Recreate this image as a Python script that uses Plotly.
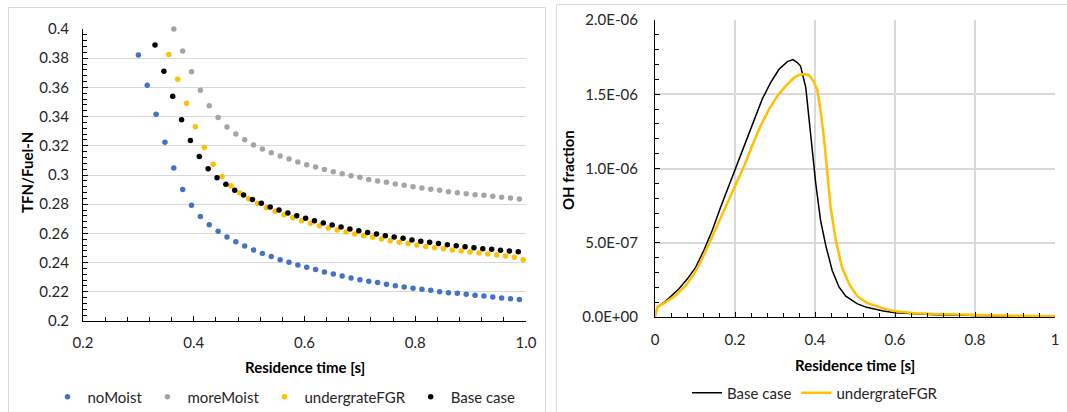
import plotly.graph_objects as go

W, H = 1067, 412

# ---------------- Left chart data: TFN/Fuel-N vs residence time ----------------
no_moist_x = [0.300, 0.316, 0.332, 0.348, 0.364, 0.380, 0.396, 0.412, 0.428, 0.444,
              0.460, 0.476, 0.492, 0.508, 0.524, 0.540, 0.556, 0.572, 0.588, 0.604,
              0.620, 0.636, 0.652, 0.668, 0.684, 0.700, 0.716, 0.732, 0.748, 0.764,
              0.780, 0.796, 0.812, 0.828, 0.844, 0.860, 0.876, 0.892, 0.908, 0.924,
              0.940, 0.956, 0.972, 0.988]
no_moist_y = [0.3822, 0.3614, 0.3416, 0.3224, 0.3048, 0.2900, 0.2792, 0.2715, 0.2660, 0.2614,
              0.2575, 0.2543, 0.2514, 0.2486, 0.2463, 0.2441, 0.2420, 0.2402, 0.2384, 0.2368,
              0.2352, 0.2336, 0.2322, 0.2308, 0.2295, 0.2283, 0.2272, 0.2263, 0.2251, 0.2242,
              0.2233, 0.2224, 0.2217, 0.2210, 0.2201, 0.2194, 0.2190, 0.2183, 0.2176, 0.2171,
              0.2164, 0.2158, 0.2153, 0.2148]

more_moist_x = [0.364, 0.380, 0.396, 0.412, 0.428, 0.444, 0.460, 0.476, 0.492, 0.508,
                0.524, 0.540, 0.556, 0.572, 0.588, 0.604, 0.620, 0.636, 0.652, 0.668,
                0.684, 0.700, 0.716, 0.732, 0.748, 0.764, 0.780, 0.796, 0.812, 0.828,
                0.844, 0.860, 0.876, 0.892, 0.908, 0.924, 0.940, 0.956, 0.972, 0.988]
more_moist_y = [0.4000, 0.3849, 0.3708, 0.3580, 0.3475, 0.3393, 0.3329, 0.3281, 0.3242, 0.3205,
                0.3178, 0.3153, 0.3130, 0.3110, 0.3089, 0.3071, 0.3055, 0.3037, 0.3023, 0.3009,
                0.2995, 0.2984, 0.2970, 0.2959, 0.2950, 0.2938, 0.2929, 0.2920, 0.2911, 0.2902,
                0.2895, 0.2886, 0.2879, 0.2872, 0.2865, 0.2861, 0.2854, 0.2847, 0.2842, 0.2836]

fgr_x = [0.355, 0.371, 0.387, 0.403, 0.419, 0.435, 0.451, 0.467, 0.483, 0.499,
         0.515, 0.531, 0.547, 0.563, 0.579, 0.595, 0.611, 0.627, 0.643, 0.659,
         0.675, 0.691, 0.707, 0.723, 0.739, 0.755, 0.771, 0.787, 0.803, 0.819,
         0.835, 0.851, 0.867, 0.883, 0.899, 0.915, 0.931, 0.947, 0.963, 0.979,
         0.995]
fgr_y = [0.3826, 0.3655, 0.3491, 0.3331, 0.3189, 0.3073, 0.2989, 0.2927, 0.2877, 0.2838,
         0.2804, 0.2776, 0.2751, 0.2728, 0.2708, 0.2687, 0.2669, 0.2653, 0.2637, 0.2623,
         0.2610, 0.2596, 0.2584, 0.2573, 0.2562, 0.2550, 0.2539, 0.2530, 0.2521, 0.2511,
         0.2502, 0.2495, 0.2486, 0.2479, 0.2473, 0.2466, 0.2459, 0.2452, 0.2445, 0.2436,
         0.2420]

base_x = [0.330, 0.346, 0.362, 0.378, 0.394, 0.410, 0.426, 0.442, 0.458, 0.474,
          0.490, 0.506, 0.522, 0.538, 0.554, 0.570, 0.586, 0.602, 0.618, 0.634,
          0.650, 0.666, 0.682, 0.698, 0.714, 0.730, 0.746, 0.762, 0.778, 0.794,
          0.810, 0.826, 0.842, 0.858, 0.874, 0.890, 0.906, 0.922, 0.938, 0.954,
          0.970, 0.986]
base_y = [0.3890, 0.3710, 0.3539, 0.3379, 0.3237, 0.3126, 0.3043, 0.2982, 0.2936, 0.2895,
          0.2863, 0.2833, 0.2806, 0.2781, 0.2760, 0.2740, 0.2721, 0.2703, 0.2687, 0.2671,
          0.2658, 0.2644, 0.2630, 0.2619, 0.2607, 0.2596, 0.2584, 0.2575, 0.2566, 0.2555,
          0.2546, 0.2539, 0.2530, 0.2523, 0.2516, 0.2509, 0.2502, 0.2495, 0.2491, 0.2484,
          0.2479, 0.2475]

left_xticks = [0.2, 0.4, 0.6, 0.8, 1.0]
left_xticktext = ["0.2", "0.4", "0.6", "0.8", "1.0"]
left_yticks = [0.2, 0.22, 0.24, 0.26, 0.28, 0.3, 0.32, 0.34, 0.36, 0.38, 0.4]
left_yticktext = ["0.2", "0.22", "0.24", "0.26", "0.28", "0.3", "0.32", "0.34", "0.36", "0.38", "0.4"]

# ---------------- Right chart data: OH fraction vs residence time ----------------
oh_base_t = [0.0, 0.006, 0.027, 0.043, 0.060, 0.081, 0.102, 0.122, 0.143, 0.164,
             0.185, 0.206, 0.227, 0.248, 0.268, 0.289, 0.310, 0.331, 0.345, 0.355,
             0.364, 0.377, 0.385, 0.393, 0.402, 0.414, 0.427, 0.443, 0.460, 0.477,
             0.490, 0.505, 0.529, 0.571, 0.600, 0.650, 0.700, 0.800, 0.900, 1.000]
oh_base = [0.0, 0.67e-7, 1.07e-7, 1.46e-7, 1.90e-7, 2.57e-7, 3.36e-7, 4.48e-7, 5.82e-7, 7.39e-7,
           8.84e-7, 10.41e-7, 11.87e-7, 13.32e-7, 14.67e-7, 15.78e-7, 16.68e-7, 17.20e-7, 17.33e-7, 17.15e-7,
           16.90e-7, 15.45e-7, 13.43e-7, 11.20e-7, 8.96e-7, 6.49e-7, 4.81e-7, 3.13e-7, 2.02e-7, 1.40e-7,
           1.15e-7, 0.90e-7, 0.65e-7, 0.40e-7, 0.29e-7, 0.20e-7, 0.15e-7, 0.10e-7, 0.07e-7, 0.05e-7]

oh_fgr_t = [0.0, 0.006, 0.027, 0.052, 0.077, 0.098, 0.118, 0.139, 0.160, 0.181,
            0.202, 0.223, 0.243, 0.264, 0.285, 0.306, 0.327, 0.348, 0.360, 0.372,
            0.385, 0.396, 0.406, 0.414, 0.423, 0.431, 0.439, 0.452, 0.468, 0.487,
            0.506, 0.530, 0.571, 0.600, 0.650, 0.700, 0.800, 0.900, 1.000]
oh_fgr = [0.0, 0.67e-7, 1.00e-7, 1.46e-7, 2.13e-7, 2.91e-7, 3.92e-7, 5.15e-7, 6.49e-7, 7.72e-7,
          8.84e-7, 10.19e-7, 11.53e-7, 12.87e-7, 13.99e-7, 14.89e-7, 15.56e-7, 16.12e-7, 16.30e-7, 16.36e-7,
          16.28e-7, 15.90e-7, 15.27e-7, 13.88e-7, 11.87e-7, 9.63e-7, 7.39e-7, 5.15e-7, 3.30e-7, 2.14e-7,
          1.40e-7, 0.95e-7, 0.58e-7, 0.38e-7, 0.26e-7, 0.20e-7, 0.13e-7, 0.09e-7, 0.05e-7]

right_xticks = [0, 0.2, 0.4, 0.6, 0.8, 1.0]
right_xticktext = ["0", "0.2", "0.4", "0.6", "0.8", "1"]
right_yticks = [0, 5e-7, 1e-6, 1.5e-6, 2e-6]
right_yticktext = ["0.0E+00", "5.0E-07", "1.0E-06", "1.5E-06", "2.0E-06"]

# ---------------- Styling ----------------
FONT = "Lato"
TXT = "#262626"
GRID = "#D9D9D9"
BLUE, GREY, GOLD, BLACK = "#4472C4", "#A5A5A5", "#FFC000", "#000000"


def px_x(p):
    return p / W


def px_y(p):
    return 1 - p / H


fig = go.Figure()

for name, xs, ys, col in [("noMoist", no_moist_x, no_moist_y, BLUE),
                          ("moreMoist", more_moist_x, more_moist_y, GREY),
                          ("undergrateFGR", fgr_x, fgr_y, GOLD),
                          ("Base case", base_x, base_y, BLACK)]:
    fig.add_trace(go.Scatter(x=xs, y=ys, mode="markers", name=name,
                             marker=dict(color=col, size=5.5),
                             cliponaxis=False, xaxis="x", yaxis="y", legend="legend"))

fig.add_trace(go.Scatter(x=oh_base_t, y=oh_base, mode="lines", name="Base case",
                         line=dict(color=BLACK, width=1.5), xaxis="x2", yaxis="y2",
                         legend="legend2"))
fig.add_trace(go.Scatter(x=oh_fgr_t, y=oh_fgr, mode="lines", name="undergrateFGR",
                         line=dict(color=GOLD, width=2.5), xaxis="x2", yaxis="y2",
                         legend="legend2"))

tickfont = dict(family=FONT, size=15, color=TXT)
common = dict(showline=True, linecolor="black", linewidth=1.2, ticks="inside",
              ticklen=5, tickcolor="black", tickfont=tickfont, zeroline=False,
              automargin=False)

fig.update_layout(
    width=W, height=H, margin=dict(l=0, r=0, t=0, b=0, autoexpand=False),
    paper_bgcolor="white", plot_bgcolor="white",
    xaxis=dict(domain=[px_x(83), px_x(526)], range=[0.2, 1.0], tickvals=left_xticks,
               ticktext=left_xticktext, showgrid=False, anchor="y",
               ticklabelstandoff=8,
               minor=dict(ticks="inside", ticklen=4, dtick=0.04, tickcolor="black", showgrid=False),
               **common),
    yaxis=dict(domain=[px_y(321), px_y(29)], range=[0.2, 0.4], tickvals=left_yticks,
               ticktext=left_yticktext, showgrid=True, gridcolor=GRID, gridwidth=1, anchor="x",
               ticklabelstandoff=10,
               minor=dict(ticks="inside", ticklen=4, dtick=0.004, tickcolor="black", showgrid=False),
               **common),
    xaxis2=dict(domain=[px_x(655), px_x(1055)], range=[0, 1.0], tickvals=right_xticks,
                ticktext=right_xticktext, showgrid=True, gridcolor=GRID, gridwidth=1.5,
                anchor="y2", ticklabelstandoff=9,
                minor=dict(ticks="inside", ticklen=4, dtick=0.04, tickcolor="black", showgrid=False),
                **common),
    yaxis2=dict(domain=[px_y(317), px_y(20)], range=[0, 2e-6], tickvals=right_yticks,
                ticktext=right_yticktext, showgrid=True, gridcolor=GRID, gridwidth=1.5,
                anchor="x2", ticklabelstandoff=13,
                minor=dict(ticks="inside", ticklen=4, dtick=1e-7, tickcolor="black", showgrid=False),
                **common),
    legend=dict(orientation="h", xref="container", yref="container",
                x=px_x(284), xanchor="center", y=px_y(397), yanchor="middle",
                font=dict(family=FONT, size=15, color=TXT), bgcolor="rgba(0,0,0,0)",
                itemwidth=30, tracegroupgap=0),
    legend2=dict(orientation="h", xref="container", yref="container",
                 x=px_x(815), xanchor="center", y=px_y(393), yanchor="middle",
                 font=dict(family=FONT, size=15, color=TXT), bgcolor="rgba(0,0,0,0)",
                 itemwidth=30),
    showlegend=True,
)

# axis titles
title_font = dict(family=FONT, size=15, color="black")
fig.add_annotation(text="<b>TFN/Fuel-N</b>", xref="paper", yref="paper", x=px_x(27), y=px_y(173),
                   textangle=-90, showarrow=False, font=title_font, xanchor="center", yanchor="middle")
fig.add_annotation(text="<b>Residence time [s]</b>", xref="paper", yref="paper", x=px_x(305), y=px_y(367),
                   showarrow=False, font=title_font, xanchor="center", yanchor="middle")
fig.add_annotation(text="<b>OH fraction</b>", xref="paper", yref="paper", x=px_x(568), y=px_y(170),
                   textangle=-90, showarrow=False, font=title_font, xanchor="center", yanchor="middle")
fig.add_annotation(text="<b>Residence time [s]</b>", xref="paper", yref="paper", x=px_x(855), y=px_y(365),
                   showarrow=False, font=title_font, xanchor="center", yanchor="middle")

# chart frames
fig.add_shape(type="rect", xref="paper", yref="paper", x0=px_x(8.5), x1=px_x(545.5),
              y0=px_y(420), y1=px_y(7.5), line=dict(color=GRID, width=1), layer="below")
fig.add_shape(type="rect", xref="paper", yref="paper", x0=px_x(556.5), x1=px_x(1075),
              y0=px_y(420), y1=px_y(4.5), line=dict(color=GRID, width=1), layer="below")

fig.write_html("out.html", config={"displayModeBar": False},
               post_script="document.body.style.margin='0';document.body.style.overflow='hidden';")
